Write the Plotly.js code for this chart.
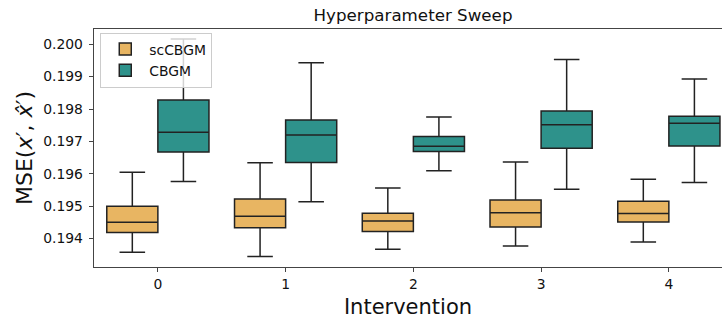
<!DOCTYPE html>
<html>
<head>
<meta charset="utf-8">
<script src="https://cdn.plot.ly/plotly-3.0.1.min.js"></script>
<style>html,body{margin:0;padding:0;background:#fff;}#chart{width:722px;height:320px;}</style>
</head>
<body>
<div id="chart"></div>
<script>
const interventions = [0, 1, 2, 3, 4];

// scCBGM box statistics
const scLower  = [0.19358, 0.19345, 0.19367, 0.19377, 0.19389];
const scQ1     = [0.19419, 0.19433, 0.19422, 0.19436, 0.19451];
const scMedian = [0.19450, 0.19469, 0.19454, 0.19480, 0.19477];
const scQ3     = [0.19500, 0.19522, 0.19478, 0.19519, 0.19515];
const scUpper  = [0.19605, 0.19634, 0.19556, 0.19636, 0.19583];

// CBGM box statistics
const cbLower  = [0.19576, 0.19514, 0.19609, 0.19552, 0.19573];
const cbQ1     = [0.19667, 0.19635, 0.19669, 0.19679, 0.19686];
const cbMedian = [0.19728, 0.19720, 0.19685, 0.19751, 0.19756];
const cbQ3     = [0.19828, 0.19766, 0.19715, 0.19794, 0.19778];
const cbUpper  = [0.20016, 0.19943, 0.19775, 0.19953, 0.19893];

const yTicks = [0.194, 0.195, 0.196, 0.197, 0.198, 0.199, 0.200];
const yTickText = ['0.194', '0.195', '0.196', '0.197', '0.198', '0.199', '0.200'];

const lineCol = '#222222';
const traces = [
  {
    type: 'box', name: 'scCBGM', x: interventions,
    lowerfence: scLower, q1: scQ1, median: scMedian, q3: scQ3, upperfence: scUpper,
    fillcolor: '#e8b562', line: {color: lineCol, width: 1.5}, whiskerwidth: 0.5,
    boxpoints: false, hoverinfo: 'skip'
  },
  {
    type: 'box', name: 'CBGM', x: interventions,
    lowerfence: cbLower, q1: cbQ1, median: cbMedian, q3: cbQ3, upperfence: cbUpper,
    fillcolor: '#2e928b', line: {color: lineCol, width: 1.5}, whiskerwidth: 0.5,
    boxpoints: false, hoverinfo: 'skip'
  }
];

const axisCol = '#444444';
const layout = {
  width: 722, height: 320,
  margin: {l: 94, r: 0, t: 29, b: 53},
  paper_bgcolor: '#ffffff', plot_bgcolor: '#ffffff',
  font: {family: 'DejaVu Sans, sans-serif', color: '#111111', size: 13.9},
  boxmode: 'group', boxgap: 0.2, boxgroupgap: 0,
  showlegend: true,
  title: {
    text: 'Hyperparameter Sweep', font: {size: 16.7, color: '#111111'},
    x: 0.508, xref: 'paper', xanchor: 'center', y: 0.953, yref: 'container', yanchor: 'middle'
  },
  xaxis: {
    range: [-0.5, 4.416], tickmode: 'array', tickvals: interventions, ticktext: interventions.map(String),
    showgrid: false, zeroline: false,
    showline: true, mirror: true, linecolor: axisCol, linewidth: 1.3,
    ticks: 'outside', ticklen: 4, tickwidth: 1, tickcolor: axisCol,
    tickfont: {size: 13.9},
    title: {text: 'Intervention', font: {size: 21}, standoff: 8}
  },
  yaxis: {
    range: [0.193122, 0.20047],
    tickmode: 'array', tickvals: yTicks, ticktext: yTickText,
    showgrid: false, zeroline: false,
    showline: true, linecolor: axisCol, linewidth: 1.3,
    ticks: 'outside', ticklen: 4, tickwidth: 1, tickcolor: axisCol,
    tickfont: {size: 13.9}, ticklabelstandoff: 3,
    title: {text: 'MSE(<i>x</i>′, <i>x̂</i>′)', font: {size: 22}, standoff: 4}
  },
  legend: {
    x: 0.01, y: 0.985, xanchor: 'left', yanchor: 'top',
    bgcolor: 'rgba(255,255,255,0.8)', bordercolor: '#cccccc', borderwidth: 1,
    font: {size: 13.9}, tracegroupgap: 0, itemwidth: 38
  }
};

Plotly.newPlot('chart', traces, layout, {displayModeBar: false, staticPlot: true});
</script>
</body>
</html>
